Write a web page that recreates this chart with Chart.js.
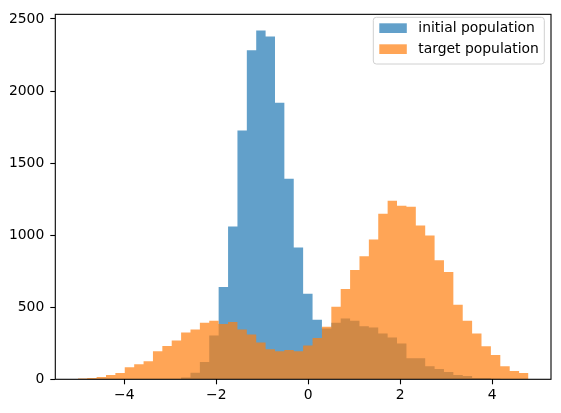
<!DOCTYPE html>
<html>
<head>
<meta charset="utf-8">
<script src="https://cdn.jsdelivr.net/npm/chart.js@4.4.1/dist/chart.umd.min.js"></script>
<style>
  html, body { margin: 0; padding: 0; background: #fff; }
  #wrap { width: 561px; height: 413px; position: relative; }
</style>
</head>
<body>
<div id="wrap"><canvas id="chart-hist"></canvas></div>
<script>
// histogram bin edges (49 edges -> 48 bins, shared by both series)
const binEdges = [
  -5.010, -4.806, -4.602, -4.398, -4.194, -3.990, -3.785, -3.581, -3.377, -3.173,
  -2.969, -2.765, -2.561, -2.357, -2.153, -1.949, -1.744, -1.540, -1.336, -1.132,
  -0.928, -0.724, -0.520, -0.316, -0.112,  0.093,  0.297,  0.501,  0.705,  0.909,
   1.113,  1.317,  1.521,  1.725,  1.929,  2.134,  2.338,  2.542,  2.746,  2.950,
   3.154,  3.358,  3.562,  3.766,  3.970,  4.175,  4.379,  4.583,  4.787
];

const initialCounts = [
     0,    0,    0,    0,    0,    0,    0,    0,    0,    0,
     1,   13,   45,  120,  304,  641, 1060, 1726, 2282, 2420,
  2378, 1918, 1392,  915,  594,  414,  353,  393,  422,  407,
   368,  359,  318,  290,  249,  146,  146,   91,   71,   50,
    30,   23,    9,    9,    3,    0,    0,    0
];

const targetCounts = [
     6,    9,   16,   30,   44,   84,  105,  126,  194,  231,
   270,  325,  345,  393,  407,  384,  398,  345,  311,  256,
   208,  194,  203,  194,  235,  286,  364,  503,  627,  758,
   854,  970, 1149, 1238, 1204, 1197, 1067,  998,  826,  744,
   517,  407,  318,  229,  169,   91,   57,   43
];

const seriesLabels = ['initial population', 'target population'];
const xTicks = [-4, -2, 0, 2, 4];
const yTicks = [0, 500, 1000, 1500, 2000, 2500];

const colorBlue = 'rgba(31, 119, 180, 0.7)';
const colorOrange = 'rgba(255, 127, 14, 0.7)';

Chart.defaults.font.family = "'DejaVu Sans', sans-serif";
Chart.defaults.font.size = 13.9;
Chart.defaults.color = '#000';

// step outline: each edge carries the count of the bin to its right,
// the closing edge repeats the last bin
const toSteps = (counts) => binEdges.map((x, i) => ({ x: x, y: counts[Math.min(i, counts.length - 1)] }));
const minusSign = (v) => String(v).replace('-', '\u2212');

// matplotlib style frame + boxed legend inside the axes
const frameAndLegend = {
  id: 'frameAndLegend',
  afterDatasetsDraw(chart) {
    let { ctx, chartArea: a } = chart;
    ctx.save();
    ctx.strokeStyle = '#000';
    ctx.lineWidth = 1.1;
    ctx.strokeRect(a.left, a.top, a.right - a.left, a.bottom - a.top);

    // legend box
    let bx = 373.3, by = 17.3, bw = 171, bh = 46.7, r = 3;
    ctx.beginPath();
    ctx.moveTo(bx + r, by);
    ctx.arcTo(bx + bw, by, bx + bw, by + bh, r);
    ctx.arcTo(bx + bw, by + bh, bx, by + bh, r);
    ctx.arcTo(bx, by + bh, bx, by, r);
    ctx.arcTo(bx, by, bx + bw, by, r);
    ctx.closePath();
    ctx.fillStyle = 'rgba(255,255,255,0.8)';
    ctx.fill();
    ctx.strokeStyle = '#d0d0d0';
    ctx.lineWidth = 1;
    ctx.stroke();

    ctx.font = "13.9px 'DejaVu Sans', sans-serif";
    ctx.textBaseline = 'middle';
    ctx.textAlign = 'left';
    chart.data.datasets.forEach((ds, i) => {
      let sy = 23.3 + i * 21;
      ctx.fillStyle = ds.backgroundColor;
      ctx.fillRect(379.3, sy, 27.5, 9.7);
      ctx.fillStyle = '#000';
      ctx.fillText(ds.label, 418.3, sy + 5);
    });
    ctx.restore();
  }
};

let canvasHist = document.getElementById('chart-hist').getContext('2d');

let histChart = new Chart(canvasHist, {
  type: 'line',
  data: {
    datasets: [{
      label: seriesLabels[0],
      order: 2,
      backgroundColor: colorBlue,
      borderWidth: 0,
      pointRadius: 0,
      stepped: 'before',
      fill: 'origin',
      data: toSteps(initialCounts)
    }, {
      label: seriesLabels[1],
      order: 1,
      backgroundColor: colorOrange,
      borderWidth: 0,
      pointRadius: 0,
      stepped: 'before',
      fill: 'origin',
      data: toSteps(targetCounts)
    }]
  },
  options: {
    responsive: true,
    maintainAspectRatio: false,
    animation: false,
    layout: { padding: { top: 10.7, right: 10, left: 0, bottom: 0 } },
    plugins: { legend: { display: false }, tooltip: { enabled: false } },
    scales: {
      x: {
        type: 'linear',
        min: -5.5,
        max: 5.277,
        afterBuildTicks: (scale) => { scale.ticks = xTicks.map(v => ({ value: v })); },
        afterFit: (scale) => { scale.height = 33.7; },
        grid: { drawOnChartArea: false, drawTicks: true, tickLength: 5, tickWidth: 1.1, tickColor: '#000' },
        border: { display: false },
        ticks: { padding: 3, color: '#000', maxRotation: 0, callback: minusSign }
      },
      y: {
        min: 0,
        max: 2532,
        afterBuildTicks: (scale) => { scale.ticks = yTicks.map(v => ({ value: v })); },
        afterFit: (scale) => { scale.width = 55.3; },
        grid: { drawOnChartArea: false, drawTicks: true, tickLength: 5, tickWidth: 1.1, tickColor: '#000' },
        border: { display: false },
        ticks: { padding: 6, color: '#000', callback: minusSign }
      }
    }
  },
  plugins: [frameAndLegend]
});
</script>
</body>
</html>
